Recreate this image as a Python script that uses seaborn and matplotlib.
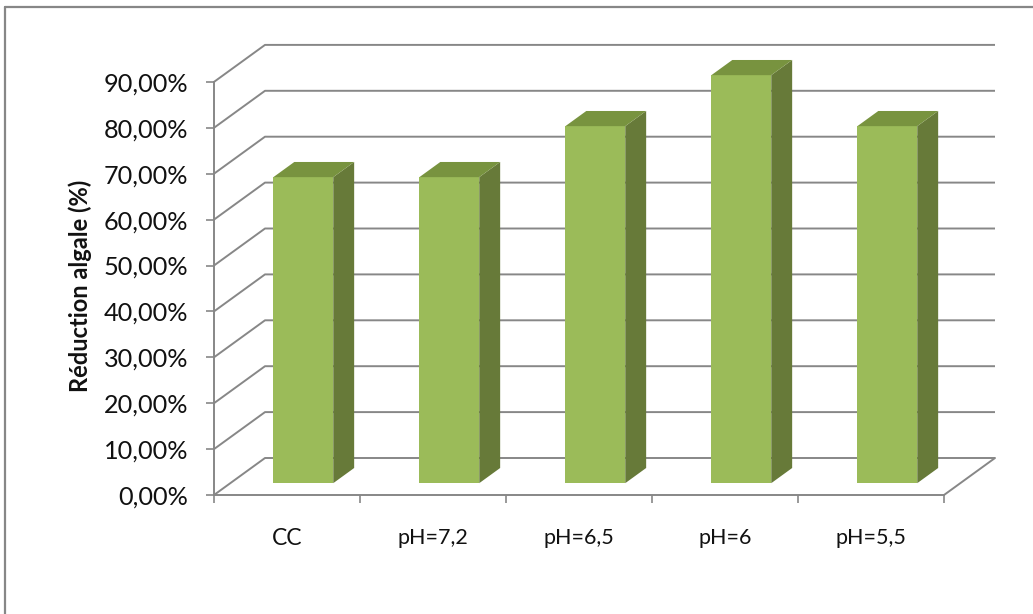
import numpy as np
import pandas as pd
import matplotlib
matplotlib.use("Agg")
import matplotlib.pyplot as plt
from matplotlib.patches import Polygon
from matplotlib.lines import Line2D
import seaborn as sns

# Data
categories = ["CC", "pH=7,2", "pH=6,5", "pH=6", "pH=5,5"]
reduction = [0.6667, 0.6667, 0.7778, 0.8889, 0.7778]
y_ticks = [0.0, 0.1, 0.2, 0.3, 0.4, 0.5, 0.6, 0.7, 0.8, 0.9]
y_tick_labels = ["0,00%", "10,00%", "20,00%", "30,00%", "40,00%",
                 "50,00%", "60,00%", "70,00%", "80,00%", "90,00%"]
y_title = "Réduction algale (%)"

# Styling
FRONT = "#9BBB59"
SIDE = "#677A39"
TOP = "#78933F"
GRID = "#878787"
TEXT = "#111111"

sns.set_theme(style="white")
plt.rcParams["font.family"] = ["Lato", "DejaVu Sans"]

W, H, DPI = 1033, 614, 100
fig = plt.figure(figsize=(W / DPI, H / DPI), dpi=DPI)
fig.patch.set_facecolor("white")

# Oblique 3D geometry (pixels)
x_left_px, floor_px = 214, 495
px_per_cat, px_per_unit = 146.0, 459.0
depth_dx_px, depth_dy_px = 51.0, 37.0
ymax = 0.9
n = len(categories)

ax = fig.add_axes([x_left_px / W,
                   (H - floor_px) / H,
                   (n * px_per_cat + depth_dx_px) / W,
                   (ymax * px_per_unit + depth_dy_px) / H])
ax.set_facecolor("none")

# depth offset in data units
DXd = depth_dx_px / px_per_cat
DYd = depth_dy_px / px_per_unit
f_front, f_back = 0.32, 0.73

df = pd.DataFrame({"cat": categories, "val": reduction})
sns.barplot(data=df, x="cat", y="val", color=FRONT, saturation=1,
            width=0.41, edgecolor="none", ax=ax, zorder=3)

ax.set_xlim(-0.5, n - 0.5 + DXd)
ax.set_ylim(0, ymax + DYd)

# Walls: side-wall diagonals and back-wall gridlines
for v in y_ticks:
    ax.plot([-0.5, -0.5 + DXd, n - 0.5 + DXd], [v, v + DYd, v + DYd],
            color=GRID, lw=1.4, zorder=1, clip_on=False, solid_capstyle="butt")
# floor: right edge
ax.plot([n - 0.5, n - 0.5 + DXd], [0, DYd], color=GRID, lw=1.4, zorder=1,
        clip_on=False)

# Bars: shift front faces into depth and add side/top faces
bars = list(ax.patches)
ddx, ddy = (f_back - f_front) * DXd, (f_back - f_front) * DYd
for p in bars:
    x0 = p.get_x() + f_front * DXd
    y0 = f_front * DYd
    w, h = p.get_width(), p.get_height()
    p.set_x(x0)
    p.set_y(y0)
    xr, yt = x0 + w, y0 + h
    side = Polygon([(xr, y0), (xr, yt), (xr + ddx, yt + ddy), (xr + ddx, y0 + ddy)],
                   closed=True, facecolor=SIDE, edgecolor="none", zorder=3)
    top = Polygon([(x0, yt), (xr, yt), (xr + ddx, yt + ddy), (x0 + ddx, yt + ddy)],
                  closed=True, facecolor=TOP, edgecolor="none", zorder=3)
    ax.add_patch(side)
    ax.add_patch(top)

# Axes lines
for s in ["top", "right"]:
    ax.spines[s].set_visible(False)
ax.spines["left"].set_bounds(0, ymax)
ax.spines["bottom"].set_bounds(-0.5, n - 0.5)
for s in ["left", "bottom"]:
    ax.spines[s].set_color(GRID)
    ax.spines[s].set_linewidth(1.4)

ax.set_yticks(y_ticks, y_tick_labels)
ax.tick_params(axis="y", left=True, direction="out", length=5.5, width=1.2,
               color=GRID, pad=13, labelsize=18.2, labelcolor=TEXT)

ax.set_xticks(range(n), categories)
ax.set_xticks(np.arange(-0.5, n, 1.0), minor=True)
ax.tick_params(axis="x", which="major", bottom=False, length=0, pad=24,
               labelsize=15.5, labelcolor=TEXT)
ax.tick_params(axis="x", which="minor", bottom=True, direction="out",
               length=6, width=1.2, color=GRID)
for lbl in ax.get_xticklabels():
    if lbl.get_text() == "CC":
        lbl.set_fontsize(16.5)
ax.set_xlabel("")
ax.set_ylabel("")

fig.text(80 / W, 1 - 286 / H, y_title, rotation=90, ha="center", va="center",
         fontsize=17, fontweight="bold", color=TEXT)

# Chart frame
fig.add_artist(Line2D([5 / W, 5 / W], [0, 1 - 7 / H], transform=fig.transFigure,
                      color=GRID, lw=1.6))
fig.add_artist(Line2D([5 / W, 1], [1 - 7 / H, 1 - 7 / H], transform=fig.transFigure,
                      color=GRID, lw=1.6))

fig.savefig("out.png", dpi=DPI, facecolor="white")
